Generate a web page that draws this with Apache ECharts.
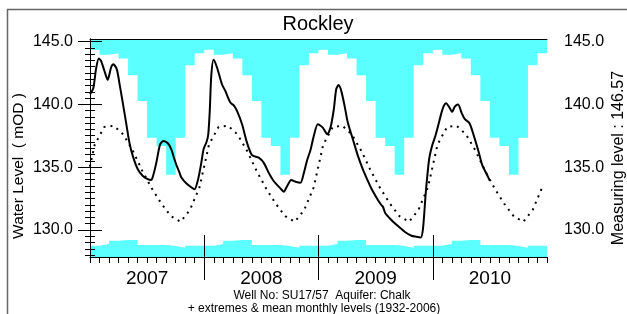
<!DOCTYPE html>
<html>
<head>
<meta charset="utf-8">
<title>Rockley</title>
<script src="https://cdn.jsdelivr.net/npm/echarts@6/dist/echarts.min.js"></script>
<style>
  html, body { margin: 0; padding: 0; background: #fff; }
  #main { width: 627px; height: 314px; }
</style>
</head>
<body>
<div id="main"></div>
<script>
// years on the x axis (axis unit = months since Jan 2007)
var years = [2007, 2008, 2009, 2010];

// long term monthly statistics (1932-2006), Jan..Dec, mOD
var monthlyMax = [144.34, 143.94, 144.07, 143.65, 142.32, 140.27, 137.35, 136.69, 134.40, 137.35, 143.12, 144.07];
var monthlyMin = [128.75, 128.88, 129.14, 129.20, 129.20, 128.80, 128.80, 128.80, 128.72, 128.59, 128.75, 128.75];
var monthlyMean = [136.8, 138.2, 138.3, 137.6, 136.3, 134.7, 133.3, 132.1, 131.1, 130.65, 131.6, 133.4];

// observed levels [months since 1 Jan 2007, mOD]
var levels = [
  [0.00, 140.8], [0.35, 141.3], [0.63, 142.8], [0.92, 143.65], [1.16, 143.46],
  [1.51, 142.67], [1.86, 141.95], [2.21, 142.93], [2.45, 143.2], [2.81, 142.8],
  [3.08, 141.73], [3.44, 140.14], [3.79, 138.55], [4.14, 136.95], [4.49, 135.9],
  [5.02, 134.83], [5.55, 134.3], [6.07, 134.04], [6.42, 133.98], [6.60, 134.24],
  [6.95, 135.3], [7.23, 136.4], [7.37, 136.83], [7.72, 137.09], [8.18, 136.9],
  [8.53, 136.43], [8.87, 135.63], [9.11, 135.1], [9.40, 134.56], [9.58, 134.2],
  [10.11, 133.72], [10.63, 133.4], [10.98, 133.24], [11.34, 133.98], [11.68, 135.3],
  [11.93, 136.43], [12.24, 137.0], [12.42, 137.6], [12.58, 139.5], [12.74, 142.3],
  [12.98, 143.54], [13.34, 142.93], [13.86, 141.6], [14.21, 141.07], [14.74, 140.14],
  [15.08, 139.93], [15.44, 139.48], [15.97, 138.42], [16.49, 136.95], [17.02, 135.95],
  [17.72, 135.76], [18.24, 135.36], [18.77, 134.56], [19.29, 133.9], [20.00, 133.31],
  [20.35, 133.05], [20.71, 133.5], [21.13, 133.98], [21.58, 133.84], [22.11, 133.76],
  [22.45, 134.5], [22.81, 135.57], [23.16, 136.37], [23.51, 137.49], [23.93, 138.42],
  [24.45, 138.15], [24.92, 137.62], [25.26, 138.15], [25.61, 139.61], [25.86, 141.2],
  [26.11, 141.53], [26.39, 141.07], [26.74, 139.88], [27.08, 138.55], [27.61, 137.22],
  [28.14, 135.9], [28.66, 134.83], [29.19, 133.9], [29.55, 133.3], [30.24, 132.39],
  [30.60, 131.99], [30.77, 131.85], [31.02, 131.33], [31.65, 130.8], [32.35, 130.31],
  [33.05, 129.86], [33.76, 129.54], [34.28, 129.46], [34.74, 129.41], [34.98, 130.13],
  [35.26, 132.9], [35.61, 135.57], [35.93, 136.7], [36.28, 137.49], [36.56, 138.28],
  [36.92, 139.34], [37.16, 139.88], [37.40, 140.09], [37.76, 139.74], [38.03, 139.4],
  [38.32, 139.82], [38.66, 139.98], [39.02, 139.34], [39.37, 138.82], [39.86, 138.5],
  [40.32, 137.49], [40.84, 136.16], [41.19, 135.18], [41.71, 134.38], [42.00, 133.92]
];

var yLabels = [130, 135, 140, 145];
var yearBreaks = [12, 24, 36];
var yearCentres = [6, 18, 30, 42];

function stepData(vals) {
  var out = [];
  for (var y = 0; y < years.length; y++) {
    for (var k = 0; k < 12; k++) out.push([y * 12 + k, vals[k]]);
  }
  out.push([years.length * 12, vals[11]]);
  return out;
}

function meanData() {
  var out = [];
  for (var m = -1; m < years.length * 12; m++) {
    out.push([m + 0.5, monthlyMean[(m + 12) % 12]]);
  }
  return out;
}

var minorTicks = [];
for (var v = 128; v <= 145; v += 0.5) minorTicks.push(v);

var FONT = '"Liberation Sans", Arial, Helvetica, sans-serif';
var CYAN = '#5cffff';
var YMIN = 127.85, YMAX = 145.2;

function yAxisBase(pos) {
  return {
    type: 'value', position: pos, min: YMIN, max: YMAX, z: 10,
    splitLine: { show: false }
  };
}

var myChart = echarts.init(document.getElementById('main'));

myChart.setOption({
  animation: false,
  textStyle: { fontFamily: FONT },
  grid: { left: 90, right: 80, top: 39, bottom: 57 },
  xAxis: [
    {
      type: 'value', position: 'bottom', min: 0, max: 48, interval: 1, z: 10,
      axisLine: { lineStyle: { color: '#000', width: 1 } },
      axisTick: { length: 6, lineStyle: { color: '#000' } },
      axisLabel: {
        customValues: yearCentres, margin: 12, fontSize: 19, color: '#000',
        formatter: function (v) { return years[Math.round((v - 6) / 12)]; }
      },
      splitLine: { show: false }
    },
    {
      type: 'value', position: 'bottom', min: 0, max: 48, z: 10,
      axisLine: { show: false }, axisLabel: { show: false }, splitLine: { show: false },
      axisTick: { customValues: yearBreaks, inside: true, length: 22, lineStyle: { color: '#000' } }
    },
    {
      type: 'value', position: 'bottom', min: 0, max: 48, z: 10,
      axisLine: { show: false }, axisLabel: { show: false }, splitLine: { show: false },
      axisTick: { customValues: yearBreaks, length: 23, lineStyle: { color: '#000' } }
    },
    {
      type: 'value', position: 'top', min: 0, max: 48, z: 10,
      axisLine: { lineStyle: { color: '#000', width: 1 } },
      axisTick: { show: false }, axisLabel: { show: false }, splitLine: { show: false }
    }
  ],
  yAxis: [
    Object.assign(yAxisBase('left'), {
      axisLine: { show: true, lineStyle: { color: '#000' } },
      axisTick: { customValues: yLabels, length: 12, lineStyle: { color: '#000' } },
      axisLabel: {
        customValues: yLabels, margin: 17, fontSize: 16, color: '#000',
        formatter: function (v) { return v.toFixed(1); }
      }
    }),
    Object.assign(yAxisBase('left'), {
      axisLine: { show: false }, axisLabel: { show: false },
      axisTick: { customValues: minorTicks, length: 5, lineStyle: { color: '#000' } }
    }),
    Object.assign(yAxisBase('right'), {
      axisLine: { show: true, lineStyle: { color: '#000' } },
      axisTick: { customValues: yLabels, length: 12, lineStyle: { color: '#000' } },
      axisLabel: {
        customValues: yLabels, margin: 17, fontSize: 16, color: '#000',
        formatter: function (v) { return v.toFixed(1); }
      }
    }),
    Object.assign(yAxisBase('right'), {
      axisLine: { show: false }, axisLabel: { show: false },
      axisTick: { customValues: minorTicks, length: 5, lineStyle: { color: '#000' } }
    })
  ],
  graphic: [
    { type: 'rect', shape: { x: 7.5, y: 9.5, width: 700, height: 400 }, style: { fill: 'none', stroke: '#666', lineWidth: 1.5 }, silent: true },
    { type: 'text', x: 318, y: 24, style: { text: 'Rockley', font: '20px ' + FONT, fill: '#000', textAlign: 'center', textVerticalAlign: 'middle' } },
    { type: 'text', x: 19, y: 166, rotation: Math.PI / 2, style: { text: 'Water Level  ( mOD )', font: '15.5px ' + FONT, fill: '#000', textAlign: 'center', textVerticalAlign: 'middle' } },
    { type: 'text', x: 619, y: 158, rotation: Math.PI / 2, style: { text: 'Measuring level : 146.57', font: '16px ' + FONT, fill: '#000', textAlign: 'center', textVerticalAlign: 'middle' } },
    { type: 'text', x: 322, y: 296, style: { text: 'Well No: SU17/57  Aquifer: Chalk', font: '12px ' + FONT, fill: '#000', textAlign: 'center', textVerticalAlign: 'middle' } },
    { type: 'text', x: 314, y: 309, style: { text: '+ extremes & mean monthly levels (1932-2006)', font: '12px ' + FONT, fill: '#000', textAlign: 'center', textVerticalAlign: 'middle' } }
  ],
  series: [
    {
      name: 'max', type: 'line', step: 'end', data: stepData(monthlyMax),
      symbol: 'none', silent: true, z: 1,
      lineStyle: { width: 0 },
      areaStyle: { color: CYAN, opacity: 1, origin: 'end' }
    },
    {
      name: 'min', type: 'line', step: 'end', data: stepData(monthlyMin),
      symbol: 'none', silent: true, z: 1,
      lineStyle: { width: 0 },
      areaStyle: { color: CYAN, opacity: 1, origin: 'start' }
    },
    {
      name: 'mean', type: 'line', data: meanData(),
      symbol: 'none', silent: true, z: 3,
      lineStyle: { color: '#000', width: 2, type: [2, 5] }
    },
    {
      name: 'level', type: 'line', data: levels, smooth: 0.25,
      symbol: 'none', silent: true, z: 4,
      lineStyle: { color: '#000', width: 2 }
    }
  ]
});
</script>
</body>
</html>
